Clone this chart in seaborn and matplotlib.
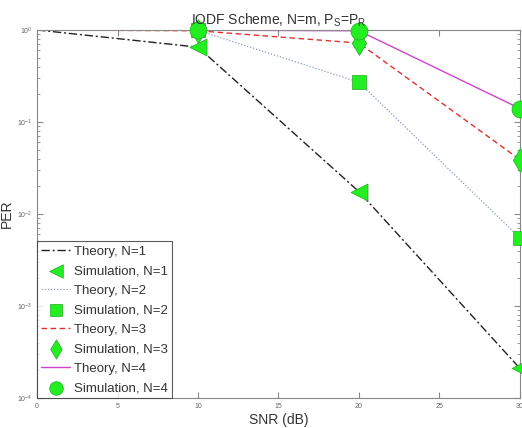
import numpy as np
import pandas as pd
import seaborn as sns
import matplotlib
matplotlib.use("Agg")
import matplotlib.pyplot as plt
from matplotlib.ticker import LogLocator, NullFormatter

snr_theory = [0, 10, 20, 30]
snr_sim = [10, 20, 30]
theory_n1 = [1.0, 0.65, 0.0175, 2.1e-4]
theory_n2 = [1.0, 0.99, 0.27, 5.5e-3]
theory_n3 = [1.0, 0.98, 0.72, 0.039]
theory_n4 = [1.0, 0.995, 0.98, 0.14]
sim_n1 = [0.65, 0.0175, 2.1e-4]
sim_n2 = [0.99, 0.27, 5.5e-3]
sim_n3 = [0.98, 0.72, 0.039]
sim_n4 = [0.995, 0.98, 0.14]
labels_n = ["N=1", "N=2", "N=3", "N=4"]

sns.set_style("ticks")
plt.rcParams['font.family'] = ['Liberation Sans', 'DejaVu Sans']

fig = plt.figure(figsize=(5.22, 4.28), dpi=100)
ax = fig.add_axes([0.071, 0.070, 0.925, 0.860])

theories = [theory_n1, theory_n2, theory_n3, theory_n4]
sims = [sim_n1, sim_n2, sim_n3, sim_n4]
styles = [(0, (6, 2, 1.5, 2)), (0, (1, 1.5)), (0, (4, 2.5)), '-']
colors = ['#222222', '#8899cc', '#e03030', '#cc44cc']
markers = ['<', 's', 'd', 'o']
msizes = [150, 100, 150, 150]

handles = []
labs = []
for i in range(4):
    dft = pd.DataFrame({'snr': snr_theory, 'per': theories[i]})
    sns.lineplot(data=dft, x='snr', y='per', ax=ax, color=colors[i],
                 linestyle=styles[i], linewidth=1.0 if i != 1 else 0.9, zorder=2)
    lt = ax.lines[-1]
    dfs = pd.DataFrame({'snr': snr_sim, 'per': sims[i]})
    sns.scatterplot(data=dfs, x='snr', y='per', ax=ax, marker=markers[i],
                    s=msizes[i], color='#22ee22', edgecolor='#22aa22',
                    linewidth=0.5, zorder=3, clip_on=False)
    sc = ax.collections[-1]
    handles += [lt, sc]
    labs += ["Theory, " + labels_n[i], "Simulation, " + labels_n[i]]

ax.set_yscale('log')
ax.set_xlim(0, 30)
ax.set_ylim(1e-4, 1)
ax.set_xticks([0, 5, 10, 15, 20, 25, 30])
ax.yaxis.set_major_locator(LogLocator(base=10, numticks=10))
ax.yaxis.set_minor_locator(LogLocator(base=10, subs=np.arange(2, 10), numticks=10))
ax.yaxis.set_minor_formatter(NullFormatter())
ax.tick_params(axis='both', which='both', direction='in', top=True, right=True,
               labelsize=5, colors='#888888', labelcolor='#666666')
ax.tick_params(axis='both', which='major', length=4)
ax.tick_params(axis='both', which='minor', length=2)
for sp in ax.spines.values():
    sp.set_visible(True)
    sp.set_color('#888888')
    sp.set_linewidth(0.8)

ax.set_xlabel('SNR (dB)', fontsize=10, color='#333333', labelpad=2)
ax.set_ylabel('PER', fontsize=10, color='#333333', labelpad=2)
ax.set_title('IODF Scheme, N=m, P$_\\mathregular{S}$=P$_\\mathregular{R}$',
             fontsize=10, color='#333333', pad=4)

leg = ax.legend(handles, labs, loc='lower left', fontsize=9.5, frameon=True,
                fancybox=False, borderaxespad=0.0, handlelength=2.2,
                handletextpad=0.3, labelspacing=0.55, borderpad=0.3,
                markerscale=0.8)
leg.get_frame().set_edgecolor('#333333')
leg.get_frame().set_linewidth(0.8)
for t in leg.get_texts():
    t.set_color('#333333')

fig.savefig('out.png', dpi=100)
